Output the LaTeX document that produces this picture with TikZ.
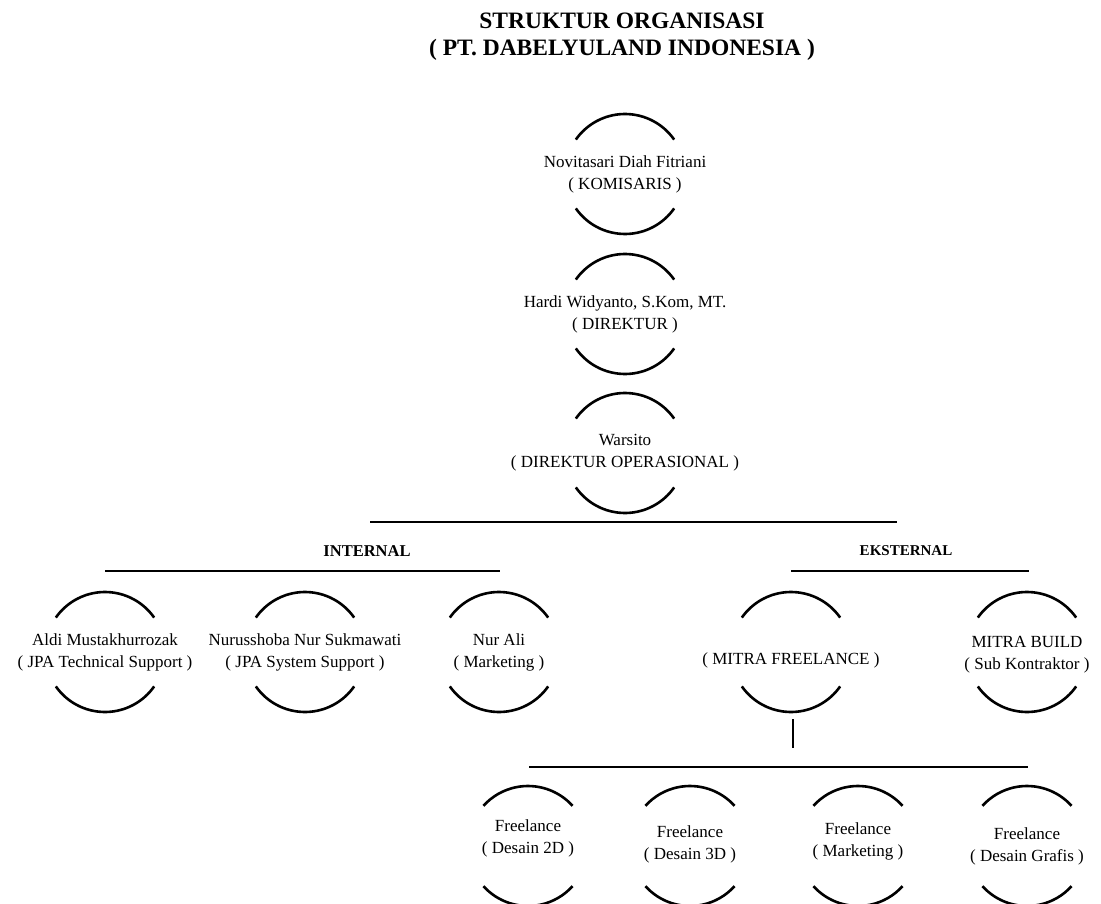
\documentclass[tikz,border=0pt]{standalone}
\usepackage{fontspec}
\setmainfont{Liberation Serif}
\usetikzlibrary{calc}
\newcommand{\ringarcs}[3][35]{%
  \draw[arcline] ($(#2.center)+(0,#3)+(#1:60)$) arc[start angle=#1, end angle=180-#1, radius=60pt];
  \draw[arcline] ($(#2.center)+(0,#3)+(180+#1:60)$) arc[start angle=180+#1, end angle=360-#1, radius=60pt];}
\begin{document}
\begin{tikzpicture}[x=1pt,y=1pt,
  person/.style={align=center, font=\fontsize{17}{22}\selectfont, inner sep=0pt},
  heading/.style={align=center, font=\bfseries\fontsize{23.5}{27}\selectfont, inner sep=0pt},
  group/.style={font=\bfseries\fontsize{16.5}{20}\selectfont, inner sep=0pt},
  arcline/.style={line width=2.6pt},
  rule/.style={line width=1.7pt},
  stub/.style={line width=1.3pt}]
\useasboundingbox (0,0) rectangle (1101,-904);

% title
\node[heading] (title) at (622,-37) {STRUKTUR ORGANISASI\\( PT. DABELYULAND INDONESIA )};

% main column
\node[person] (kom) at (625,-174) {Novitasari Diah Fitriani\\( KOMISARIS )};
\ringarcs{kom}{0}
\node[person] (dir) at (625,-314) {Hardi Widyanto, S.Kom, MT.\\( DIREKTUR )};
\ringarcs{dir}{0}
\node[person] (ops) at (625,-453) {Warsito\\( DIREKTUR OPERASIONAL )};
\ringarcs{ops}{0}

% separators
\coordinate (topL) at (370,-522);
\coordinate (topR) at (897,-522);
\draw[rule] (topL) -- (topR);

\node[group] (internal) at (367,-551) {INTERNAL};
\node[group, font=\bfseries\fontsize{15}{18}\selectfont] (eksternal) at (906,-551) {EKSTERNAL};
\coordinate (inL) at (105,-571);
\coordinate (inR) at (500,-571);
\draw[rule] (inL) -- (inR);
\coordinate (exL) at (791,-571);
\coordinate (exR) at (1029,-571);
\draw[rule] (exL) -- (exR);

% internal row
\node[person] (aldi) at (105,-652) {Aldi Mustakhurrozak\\( JPA Technical Support )};
\ringarcs{aldi}{0}
\node[person] (nurus) at (305,-652) {Nurusshoba Nur Sukmawati\\( JPA System Support )};
\ringarcs{nurus}{0}
\node[person] (nurali) at (499,-652) {Nur Ali\\( Marketing )};
\ringarcs{nurali}{0}

% external row
\node[person] (mf) at (791,-660) {( MITRA FREELANCE )};
\ringarcs{mf}{8}
\node[person] (mb) at (1027,-655) {MITRA BUILD\\( Sub Kontraktor )};
\ringarcs{mb}{3}

\coordinate (mfA) at (793,-719);
\coordinate (mfB) at (793,-748);
\draw[stub] (mfA) -- (mfB);

\coordinate (btL) at (529,-767);
\coordinate (btR) at (1028,-767);
\draw[rule] (btL) -- (btR);

% freelance row
\node[person] (f2d) at (528,-838) {Freelance\\( Desain 2D )};
\ringarcs[42]{f2d}{-8}
\node[person] (f3d) at (690,-844) {Freelance\\( Desain 3D )};
\ringarcs[42]{f3d}{-2}
\node[person] (fmk) at (858,-841) {Freelance\\( Marketing )};
\ringarcs[42]{fmk}{-5}
\node[person] (fgr) at (1027,-846) {Freelance\\( Desain Grafis )};
\ringarcs[42]{fgr}{0}
\end{tikzpicture}
\end{document}
